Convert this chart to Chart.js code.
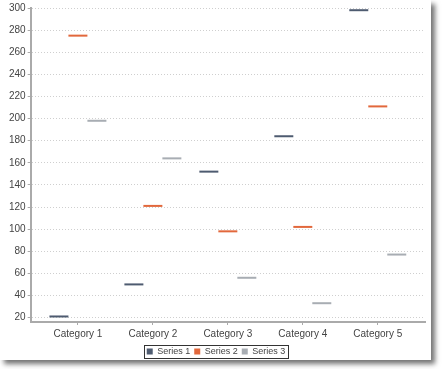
<!DOCTYPE html>
<html>
<head>
<meta charset="utf-8">
<script src="https://cdn.jsdelivr.net/npm/chart.js@4"></script>
<style>
  html, body { margin: 0; padding: 0; background: #fff; }
  #wrap {
    position: absolute; left: 0; top: 0;
    width: 431px; height: 360px;
    overflow: hidden;
    background: #fff;
    box-shadow: 4px 4px 5px rgba(0, 0, 0, 0.55);
  }
</style>
</head>
<body>
<div id="wrap"><canvas id="chart" width="431" height="368"></canvas></div>
<script>
const categories = ["Category 1", "Category 2", "Category 3", "Category 4", "Category 5"];
const series1 = [21, 50, 152, 184, 298];
const series2 = [275, 121, 98, 102, 211];
const series3 = [198, 164, 56, 33, 77];
const seriesNames = ["Series 1", "Series 2", "Series 3"];
const seriesColors = ["#4e5b70", "#e2683c", "#a8adb3"];
const yTicks = [20, 40, 60, 80, 100, 120, 140, 160, 180, 200, 220, 240, 260, 280, 300];

const font = { family: "'Liberation Sans', Arial, sans-serif", size: 10 };
const legendFont = { family: "'Liberation Sans', Arial, sans-serif", size: 9 };
const textColor = "#444";

// each value is shown as a short horizontal dash across its bar slot
const dashPlugin = {
  id: "dashes",
  afterDatasetsDraw(chart) {
    const ctx = chart.ctx;
    chart.data.datasets.forEach((ds, i) => {
      const meta = chart.getDatasetMeta(i);
      if (meta.hidden) return;
      ctx.save();
      ctx.strokeStyle = ds.borderColor;
      ctx.lineWidth = 2;
      meta.data.forEach(bar => {
        ctx.beginPath();
        ctx.moveTo(bar.x - bar.width / 2, bar.y);
        ctx.lineTo(bar.x + bar.width / 2, bar.y);
        ctx.stroke();
      });
      ctx.restore();
    });
  }
};

// thin frame round the legend items
const legendFrame = {
  id: "legendFrame",
  afterDraw(chart) {
    const boxes = chart.legend.legendHitBoxes;
    if (!boxes || !boxes.length) return;
    const left = Math.min(...boxes.map(b => b.left)) - 3;
    const right = Math.max(...boxes.map(b => b.left + b.width)) + 2;
    const top = Math.min(...boxes.map(b => b.top)) - 2;
    const bottom = Math.max(...boxes.map(b => b.top + b.height)) + 2;
    const ctx = chart.ctx;
    ctx.save();
    ctx.strokeStyle = "#333";
    ctx.lineWidth = 1;
    ctx.strokeRect(Math.round(left) + 0.5, Math.round(top) + 0.5, Math.round(right - left), Math.round(bottom - top));
    ctx.restore();
  }
};

const datasets = [series1, series2, series3].map((values, i) => ({
  label: seriesNames[i],
  data: values,
  borderColor: seriesColors[i],
  backgroundColor: "rgba(0,0,0,0)",
  borderWidth: 0
}));

new Chart(document.getElementById("chart"), {
  type: "bar",
  data: { labels: categories, datasets: datasets },
  options: {
    responsive: false,
    animation: false,
    events: [],
    layout: { padding: { left: 7, right: 6, top: 3, bottom: 2 } },
    datasets: { bar: { categoryPercentage: 0.76, barPercentage: 1.0 } },
    plugins: {
      tooltip: { enabled: false },
      legend: {
        position: "bottom",
        labels: {
          font: legendFont,
          color: textColor,
          boxWidth: 6,
          boxHeight: 6,
          padding: 4,
          generateLabels: chart => chart.data.datasets.map((ds, i) => ({
            text: ds.label,
            fillStyle: ds.borderColor,
            strokeStyle: ds.borderColor,
            lineWidth: 0,
            fontColor: textColor,
            hidden: !chart.isDatasetVisible(i),
            datasetIndex: i
          }))
        }
      }
    },
    scales: {
      x: {
        offset: true,
        grid: { drawOnChartArea: false, offset: false, tickLength: 3, color: "#aaa" },
        border: { color: "#aaa", width: 2 },
        ticks: { font: font, color: textColor, padding: 3, maxRotation: 0 },
        afterBuildTicks: s => { s._startValue -= 0.13; s._valueRange += 0.26; }
      },
      y: {
        min: 16,
        max: 300,
        afterBuildTicks: s => { s.ticks = yTicks.map(v => ({ value: v })); },
        grid: { color: "#cfcfcf", tickColor: "#aaa", tickLength: 3, tickBorderDash: [] },
        border: { color: "#aaa", width: 2, dash: [1, 2] },
        ticks: { font: font, color: textColor, padding: 2 }
      }
    }
  },
  plugins: [dashPlugin, legendFrame]
});
</script>
</body>
</html>
